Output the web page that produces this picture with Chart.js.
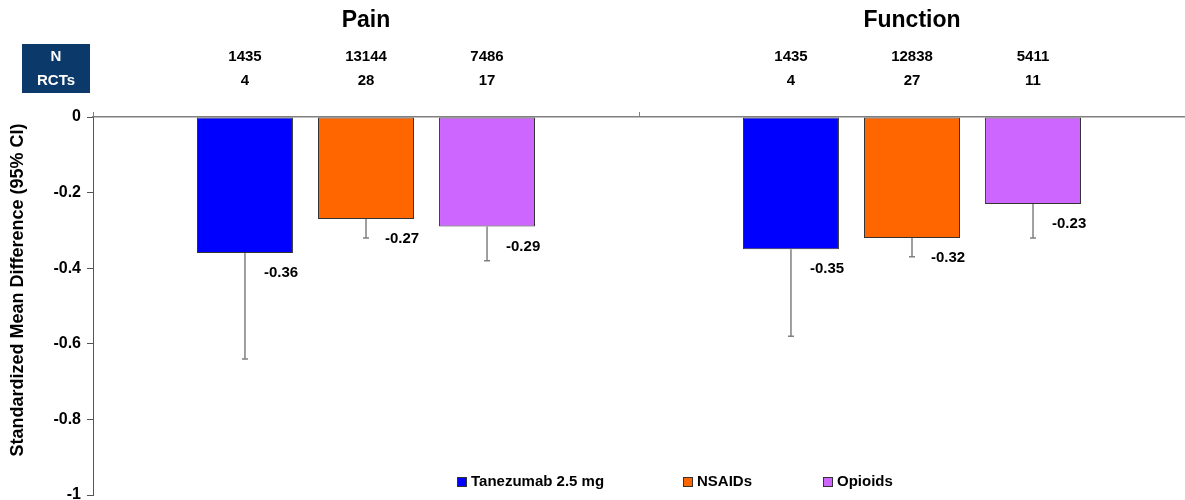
<!DOCTYPE html>
<html lang="en">
<head>
    <meta charset="UTF-8">
    <title>Standardized Mean Difference - Pain and Function</title>
    <style>
        body { margin: 0; background: #ffffff; }
        .chart-container { width: 1185px; height: 500px; position: relative; }
    </style>
</head>
<body>
    <div class="chart-container">
        <canvas id="smdChart"></canvas>
    </div>

    <script src="https://cdn.jsdelivr.net/npm/chart.js@4.4.3/dist/chart.umd.min.js"></script>
    <script>
        // Datos
        const categories = ['Pain', 'Function'];
        const seriesNames = ['Tanezumab 2.5 mg', 'NSAIDs', 'Opioids'];
        const tanezumabSmd = [-0.36, -0.35];
        const nsaidSmd = [-0.27, -0.32];
        const opioidSmd = [-0.29, -0.23];
        const tanezumabLow = [-0.64, -0.58];
        const nsaidLow = [-0.32, -0.37];
        const opioidLow = [-0.38, -0.32];
        const tanezumabN = [1435, 1435];
        const nsaidN = [13144, 12838];
        const opioidN = [7486, 5411];
        const tanezumabRcts = [4, 4];
        const nsaidRcts = [28, 27];
        const opioidRcts = [17, 11];
        const yTicks = [0, -0.2, -0.4, -0.6, -0.8, -1];

        const colors = ['#0000FF', '#FF6600', '#CC66FF'];
        const lows = [tanezumabLow, nsaidLow, opioidLow];
        const nCounts = [tanezumabN, nsaidN, opioidN];
        const rctCounts = [tanezumabRcts, nsaidRcts, opioidRcts];
        const FONT = '"Liberation Sans", Arial, sans-serif';

        const overlay = {
            id: 'overlay',
            afterDatasetsDraw(chart) {
                const ctx = chart.ctx;
                const y = chart.scales.y;
                const x = chart.scales.x;
                ctx.save();

                chart.data.datasets.forEach((ds, di) => {
                    const meta = chart.getDatasetMeta(di);
                    meta.data.forEach((bar, i) => {
                        // barra de error (solo límite inferior)
                        const yLow = y.getPixelForValue(lows[di][i]);
                        ctx.strokeStyle = '#808080';
                        ctx.lineWidth = 1.5;
                        ctx.beginPath();
                        ctx.moveTo(bar.x, bar.y);
                        ctx.lineTo(bar.x, yLow);
                        ctx.moveTo(bar.x - 3, yLow);
                        ctx.lineTo(bar.x + 3, yLow);
                        ctx.stroke();

                        // etiqueta de valor
                        ctx.fillStyle = '#000';
                        ctx.font = 'bold 15px ' + FONT;
                        ctx.textAlign = 'left';
                        ctx.textBaseline = 'middle';
                        ctx.fillText(ds.data[i].toFixed(2), bar.x + 19, bar.y + 20);

                        // N y RCTs
                        ctx.font = 'bold 15px ' + FONT;
                        ctx.textAlign = 'center';
                        ctx.fillText(String(nCounts[di][i]), bar.x, 57);
                        ctx.fillText(String(rctCounts[di][i]), bar.x, 81);
                    });
                });

                // títulos de categoría
                ctx.font = 'bold 23px ' + FONT;
                ctx.textAlign = 'center';
                ctx.fillStyle = '#000';
                categories.forEach((c, i) => {
                    ctx.fillText(c, x.getPixelForValue(i), 21);
                });

                // caja N / RCTs
                ctx.fillStyle = '#0B3A6A';
                ctx.fillRect(22, 44, 68, 49);
                ctx.fillStyle = '#fff';
                ctx.font = 'bold 15px ' + FONT;
                ctx.fillText('N', 56, 57);
                ctx.fillText('RCTs', 56, 81);

                // título eje Y
                ctx.save();
                ctx.translate(18, 290);
                ctx.rotate(-Math.PI / 2);
                ctx.fillStyle = '#000';
                ctx.font = 'bold 18px ' + FONT;
                ctx.fillText('Standardized Mean Difference (95% CI)', 0, 0);
                ctx.restore();

                // leyenda
                const legendX = [457, 683, 823];
                ctx.font = 'bold 15px ' + FONT;
                ctx.textAlign = 'left';
                seriesNames.forEach((name, i) => {
                    ctx.fillStyle = colors[i];
                    ctx.fillRect(legendX[i], 477, 9, 9);
                    ctx.strokeStyle = '#333';
                    ctx.lineWidth = 1;
                    ctx.strokeRect(legendX[i] + 0.5, 477.5, 9, 9);
                    ctx.fillStyle = '#000';
                    ctx.fillText(name, legendX[i] + 14, 482);
                });
                ctx.restore();
            }
        };

        new Chart(document.getElementById('smdChart'), {
            type: 'bar',
            data: {
                labels: categories,
                datasets: [
                    { label: seriesNames[0], data: tanezumabSmd, backgroundColor: colors[0] },
                    { label: seriesNames[1], data: nsaidSmd, backgroundColor: colors[1] },
                    { label: seriesNames[2], data: opioidSmd, backgroundColor: colors[2] }
                ].map(d => Object.assign(d, {
                    borderColor: '#333333',
                    borderWidth: 1,
                    borderSkipped: false,
                    categoryPercentage: 0.665,
                    barPercentage: 0.793
                }))
            },
            options: {
                responsive: true,
                maintainAspectRatio: false,
                animation: false,
                layout: { padding: { top: 0, left: 0, right: 0, bottom: 5 } },
                plugins: {
                    legend: { display: false },
                    tooltip: { enabled: false }
                },
                scales: {
                    x: {
                        position: 'top',
                        afterFit: s => { s.height = 117; },
                        ticks: { display: false },
                        grid: {
                            offset: true,
                            drawOnChartArea: false,
                            tickLength: 5,
                            color: '#808080'
                        },
                        border: { color: '#808080', width: 1.5 }
                    },
                    y: {
                        min: -1,
                        max: 0,
                        afterFit: s => { s.width = 93; s.paddingTop = 0; s.paddingBottom = 0; },
                        afterBuildTicks: s => { s.ticks = yTicks.map(v => ({ value: v })); },
                        ticks: {
                            color: '#000',
                            padding: 6,
                            font: { family: FONT, size: 16, weight: 'bold' },
                            callback: v => String(v)
                        },
                        grid: {
                            drawOnChartArea: false,
                            tickLength: 6,
                            color: '#555'
                        },
                        border: { color: '#555', width: 1 }
                    }
                }
            },
            plugins: [overlay]
        });
    </script>
</body>
</html>
